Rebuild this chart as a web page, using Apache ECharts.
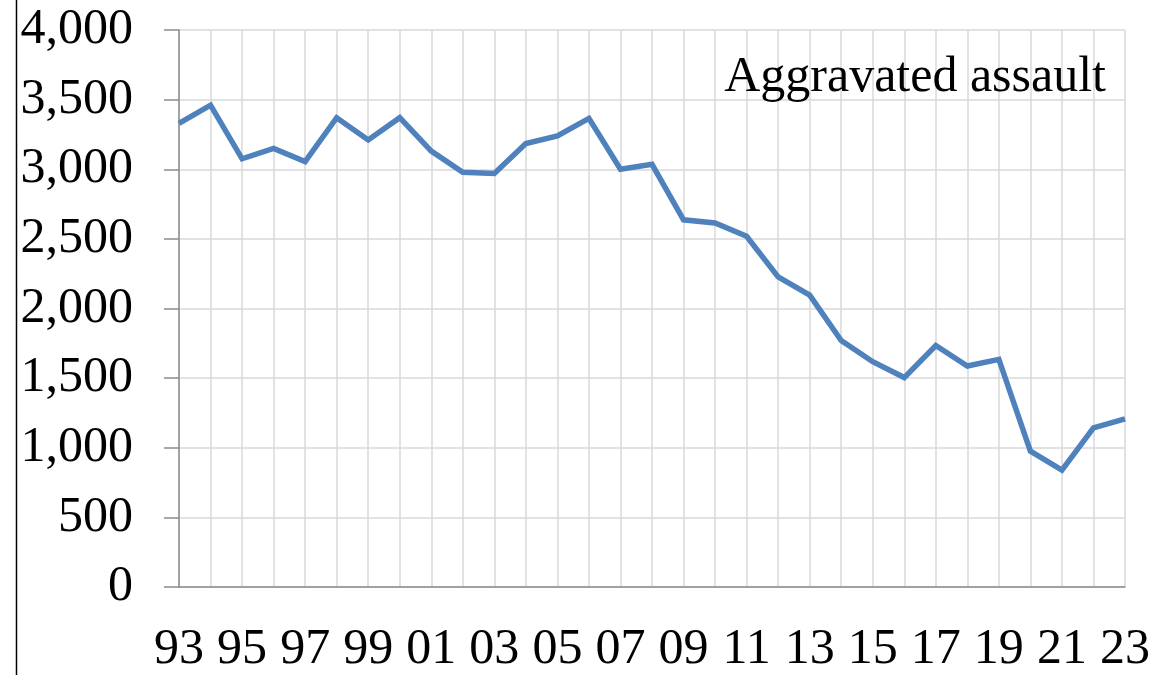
<!DOCTYPE html>
<html>
<head>
<meta charset="utf-8">
<script src="https://cdn.jsdelivr.net/npm/echarts@6/dist/echarts.min.js"></script>
<style>
  html, body { margin: 0; padding: 0; background: #fff; overflow: hidden; }
  #chart { width: 100vw; height: 100vh; }
</style>
</head>
<body>
<div id="chart"></div>
<script>
// Aggravated assault counts by year, 1993–2023
const years = ['93','94','95','96','97','98','99','00','01','02','03','04','05','06','07','08',
               '09','10','11','12','13','14','15','16','17','18','19','20','21','22','23'];
const assaults = [3330, 3460, 3075, 3150, 3055, 3370, 3210, 3370, 3130, 2978, 2970, 3185, 3240, 3365,
                  3000, 3035, 2637, 2614, 2519, 2227, 2096, 1770, 1618, 1504, 1734, 1587, 1635,
                  976, 839, 1142, 1208];
const seriesTitle = 'Aggravated assault';

const serif = '"Liberation Serif", "DejaVu Serif", serif';
const chart = echarts.init(document.getElementById('chart'));

chart.setOption({
  animation: false,
  backgroundColor: '#fff',
  grid: { left: 179, right: 30, top: 30, bottom: 81, containLabel: false },
  title: {
    text: seriesTitle,
    right: 44, top: 48,
    textStyle: { fontFamily: serif, fontSize: 50, fontWeight: 'normal', color: '#000' }
  },
  xAxis: {
    type: 'category',
    data: years,
    boundaryGap: false,
    axisLine: { lineStyle: { color: '#8c8c8c', width: 1.5 } },
    axisTick: { show: false },
    axisLabel: {
      interval: 1, margin: 38, color: '#000',
      fontFamily: serif, fontSize: 50
    },
    splitLine: { show: true, interval: 0, lineStyle: { color: '#d9d9d9', width: 1.5 } }
  },
  yAxis: {
    type: 'value',
    min: 0, max: 4000, interval: 500,
    axisLine: { show: true, lineStyle: { color: '#8c8c8c', width: 1.5 } },
    axisTick: { show: true, length: 15, lineStyle: { color: '#8c8c8c', width: 1.5 } },
    axisLabel: {
      margin: 46, color: '#000',
      fontFamily: serif, fontSize: 50,
      formatter: v => v.toLocaleString('en-US')
    },
    splitLine: { show: true, lineStyle: { color: '#d9d9d9', width: 1.5 } }
  },
  series: [{
    type: 'line',
    data: assaults,
    symbol: 'none',
    lineStyle: { color: '#4f81bd', width: 5.5, join: 'miter' },
    itemStyle: { color: '#4f81bd' }
  }],
  graphic: [{
    type: 'line',
    shape: { x1: 16.5, y1: 0, x2: 16.5, y2: 2000 },
    style: { stroke: '#000', lineWidth: 1.5 }
  }]
});
</script>
</body>
</html>
